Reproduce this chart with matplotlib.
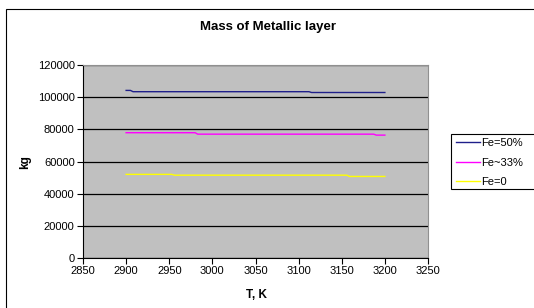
import matplotlib
matplotlib.use("Agg")
import matplotlib.pyplot as plt
from matplotlib.patches import Rectangle

plt.rcParams['font.family'] = ['Liberation Sans', 'DejaVu Sans']

title = "Mass of Metallic layer"
xlabel = "T, K"
ylabel = "kg"

t_fe50 = [2900, 2905, 2908, 3112, 3115, 3200]
m_fe50 = [104200, 104200, 103400, 103400, 102900, 102900]

t_fe33 = [2900, 2980, 2983, 3187, 3190, 3200]
m_fe33 = [77900, 77900, 77000, 77000, 76400, 76400]

t_fe0 = [2900, 2953, 2956, 3156, 3159, 3200]
m_fe0 = [52000, 52000, 51500, 51500, 50700, 50700]

labels = ["Fe=50%", "Fe~33%", "Fe=0"]
colors = ["#1f1f8a", "#ff00ff", "#ffff00"]

xticks = [2850, 2900, 2950, 3000, 3050, 3100, 3150, 3200, 3250]
yticks = [0, 20000, 40000, 60000, 80000, 100000, 120000]

fig = plt.figure(figsize=(5.34, 3.08), dpi=100)
fig.patch.set_facecolor("white")
fig.patches.append(Rectangle((6/534, -0.05), 1.2, 1 - 9/308 + 0.05, transform=fig.transFigure,
                             fill=False, edgecolor="black", linewidth=0.8))
# legend frame (extends past the right edge as in the reference)
fig.patches.append(Rectangle((451/534, 1 - 189/308), 0.5, 55/308, transform=fig.transFigure,
                             facecolor="white", edgecolor="black", linewidth=0.8, zorder=3))

ax = fig.add_axes([83/534, 1 - 258/308, (428 - 83)/534, (258 - 65)/308])
ax.set_facecolor("#c0c0c0")

for t, m, lab, c in zip([t_fe50, t_fe33, t_fe0], [m_fe50, m_fe33, m_fe0], labels, colors):
    ax.plot(t, m, color=c, linewidth=1.0, label=lab)

ax.set_xlim(2850, 3250)
ax.set_ylim(0, 120000)
ax.set_xticks(xticks)
ax.set_yticks(yticks)
ax.set_xticklabels([str(v) for v in xticks], fontsize=8)
ax.set_yticklabels([str(v) for v in yticks], fontsize=8)
ax.tick_params(direction="out", length=4, color="black", pad=2)
ax.yaxis.grid(True, color="black", linewidth=0.9)
ax.set_axisbelow(True)
for s in ["left", "bottom"]:
    ax.spines[s].set_color("black")
    ax.spines[s].set_linewidth(0.8)
for s in ["top", "right"]:
    ax.spines[s].set_color("#909090")
    ax.spines[s].set_linewidth(0.8)

fig.text(268/534, 1 - 27/308, title, ha="center", va="center",
         fontsize=9.5, fontweight="bold")
fig.text(256/534, 1 - 295/308, xlabel, ha="center", va="center", fontsize=8.5, fontweight="bold")
fig.text(25/534, 1 - 162/308, ylabel, ha="center", va="center", fontsize=8.5,
         fontweight="bold", rotation=90)

leg = fig.legend(loc="center left", bbox_to_anchor=(454/534, 1 - 162.5/308), fontsize=8,
                 frameon=False, handlelength=2.1,
                 handletextpad=0.1, borderpad=0.2, labelspacing=0.85, borderaxespad=0)
leg.set_zorder(4)

fig.savefig("out.png", dpi=100)
